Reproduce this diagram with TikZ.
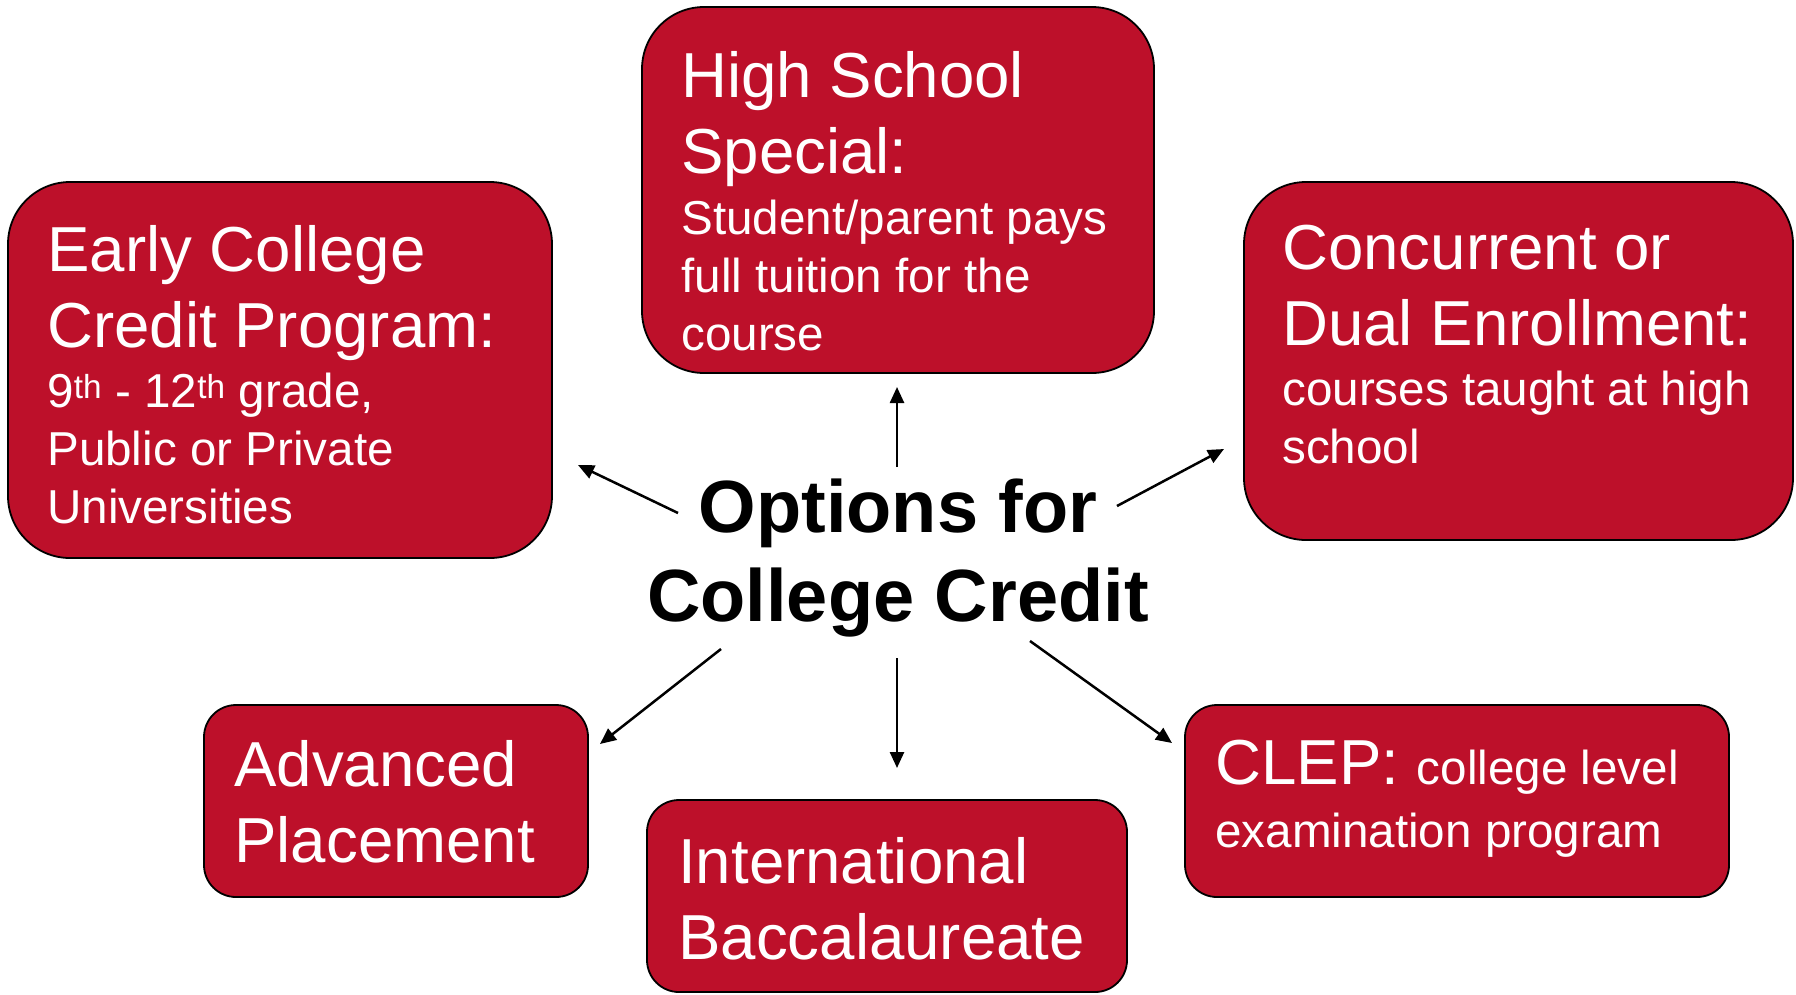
\documentclass[tikz,border=0pt]{standalone}
\usepackage{fontspec}
\setmainfont{Liberation Sans}
\usetikzlibrary{positioning,arrows.meta}

\definecolor{optred}{RGB}{189,16,42}
\newcommand{\optTitle}{\fontsize{63.6}{76}\selectfont}
\newcommand{\optText}{\fontsize{47.6}{58}\selectfont}

\tikzset{
  optbox/.style={draw=black, line width=1.8pt, fill=optred, rounded corners=#1, inner sep=0pt},
  optlabel/.style={text=white, align=flush left, inner sep=0pt,
    execute at begin node={\setlength{\parindent}{0pt}\spaceskip=0pt\xspaceskip=0pt}},
  spoke/.style={line width=2.5pt, -{Triangle[length=16pt,width=14pt]}}
}

\begin{document}
\begin{tikzpicture}[x=1pt,y=-1pt]
\useasboundingbox (0,0) rectangle (1796,994);

%%% The six options
\node[optbox=62pt, minimum width=544pt, minimum height=376pt] (ec) at (280,370) {};
\node[optbox=62pt, minimum width=512pt, minimum height=366pt] (hs) at (898,190) {};
\node[optbox=62pt, minimum width=549pt, minimum height=358pt] (cd) at (1518.5,361) {};
\node[optbox=32pt, minimum width=384pt, minimum height=192pt] (ap) at (396,801) {};
\node[optbox=32pt, minimum width=480pt, minimum height=192pt] (ib) at (887,896) {};
\node[optbox=32pt, minimum width=544pt, minimum height=192pt] (clep) at (1457,801) {};

%%% Texts of the options
\node[optlabel, text width=500pt, below right=44pt and 40pt of ec.north west] (ecText)
  {\optTitle Early College\\Credit Program:\par\vspace{2pt}
   \optText 9\textsuperscript{th} - 12\textsuperscript{th} grade,\\Public or Private\\Universities\par};
\node[optlabel, text width=470pt, below right=45pt and 40pt of hs.north west] (hsText)
  {\optTitle High School\\Special:\par\vspace{3pt}
   \optText Student/parent pays\\full tuition for the\\course\par};
\node[optlabel, text width=505pt, below right=44pt and 39pt of cd.north west] (cdText)
  {\optTitle Concurrent or\\Dual Enrollment:\par\vspace{2pt}
   \optText courses taught at high\\school\par};
\node[optlabel, text width=350pt, below right=36pt and 31pt of ap.north west] (apText)
  {\optTitle Advanced\\Placement\par};
\node[optlabel, text width=440pt, below right=38pt and 32pt of ib.north west] (ibText)
  {\optTitle International\\Baccalaureate\par};
\node[optlabel, text width=510pt, below right=36pt and 31pt of clep.north west] (clepText)
  {\optTitle CLEP: \fontsize{47.6}{63}\selectfont college level\\examination program\par};

%%% Centre
\node[font=\bfseries\fontsize{74}{89}\selectfont, align=center, inner sep=0pt] (opt) at (898,558)
  {Options for\\College Credit};

%%% Arrow ends
\coordinate (upFrom) at (897,467);   \coordinate (upTo) at (897,387);
\coordinate (ulFrom) at (678,513);   \coordinate (ulTo) at (578,465);
\coordinate (urFrom) at (1117,506);  \coordinate (urTo) at (1224,449);
\coordinate (dlFrom) at (721,649);   \coordinate (dlTo) at (600,744);
\coordinate (dnFrom) at (897,658);   \coordinate (dnTo) at (897,768);
\coordinate (drFrom) at (1030,641);  \coordinate (drTo) at (1172,743);

\draw[spoke] (upFrom) -- (upTo);
\draw[spoke] (ulFrom) -- (ulTo);
\draw[spoke] (urFrom) -- (urTo);
\draw[spoke] (dlFrom) -- (dlTo);
\draw[spoke] (dnFrom) -- (dnTo);
\draw[spoke] (drFrom) -- (drTo);
\end{tikzpicture}
\end{document}
